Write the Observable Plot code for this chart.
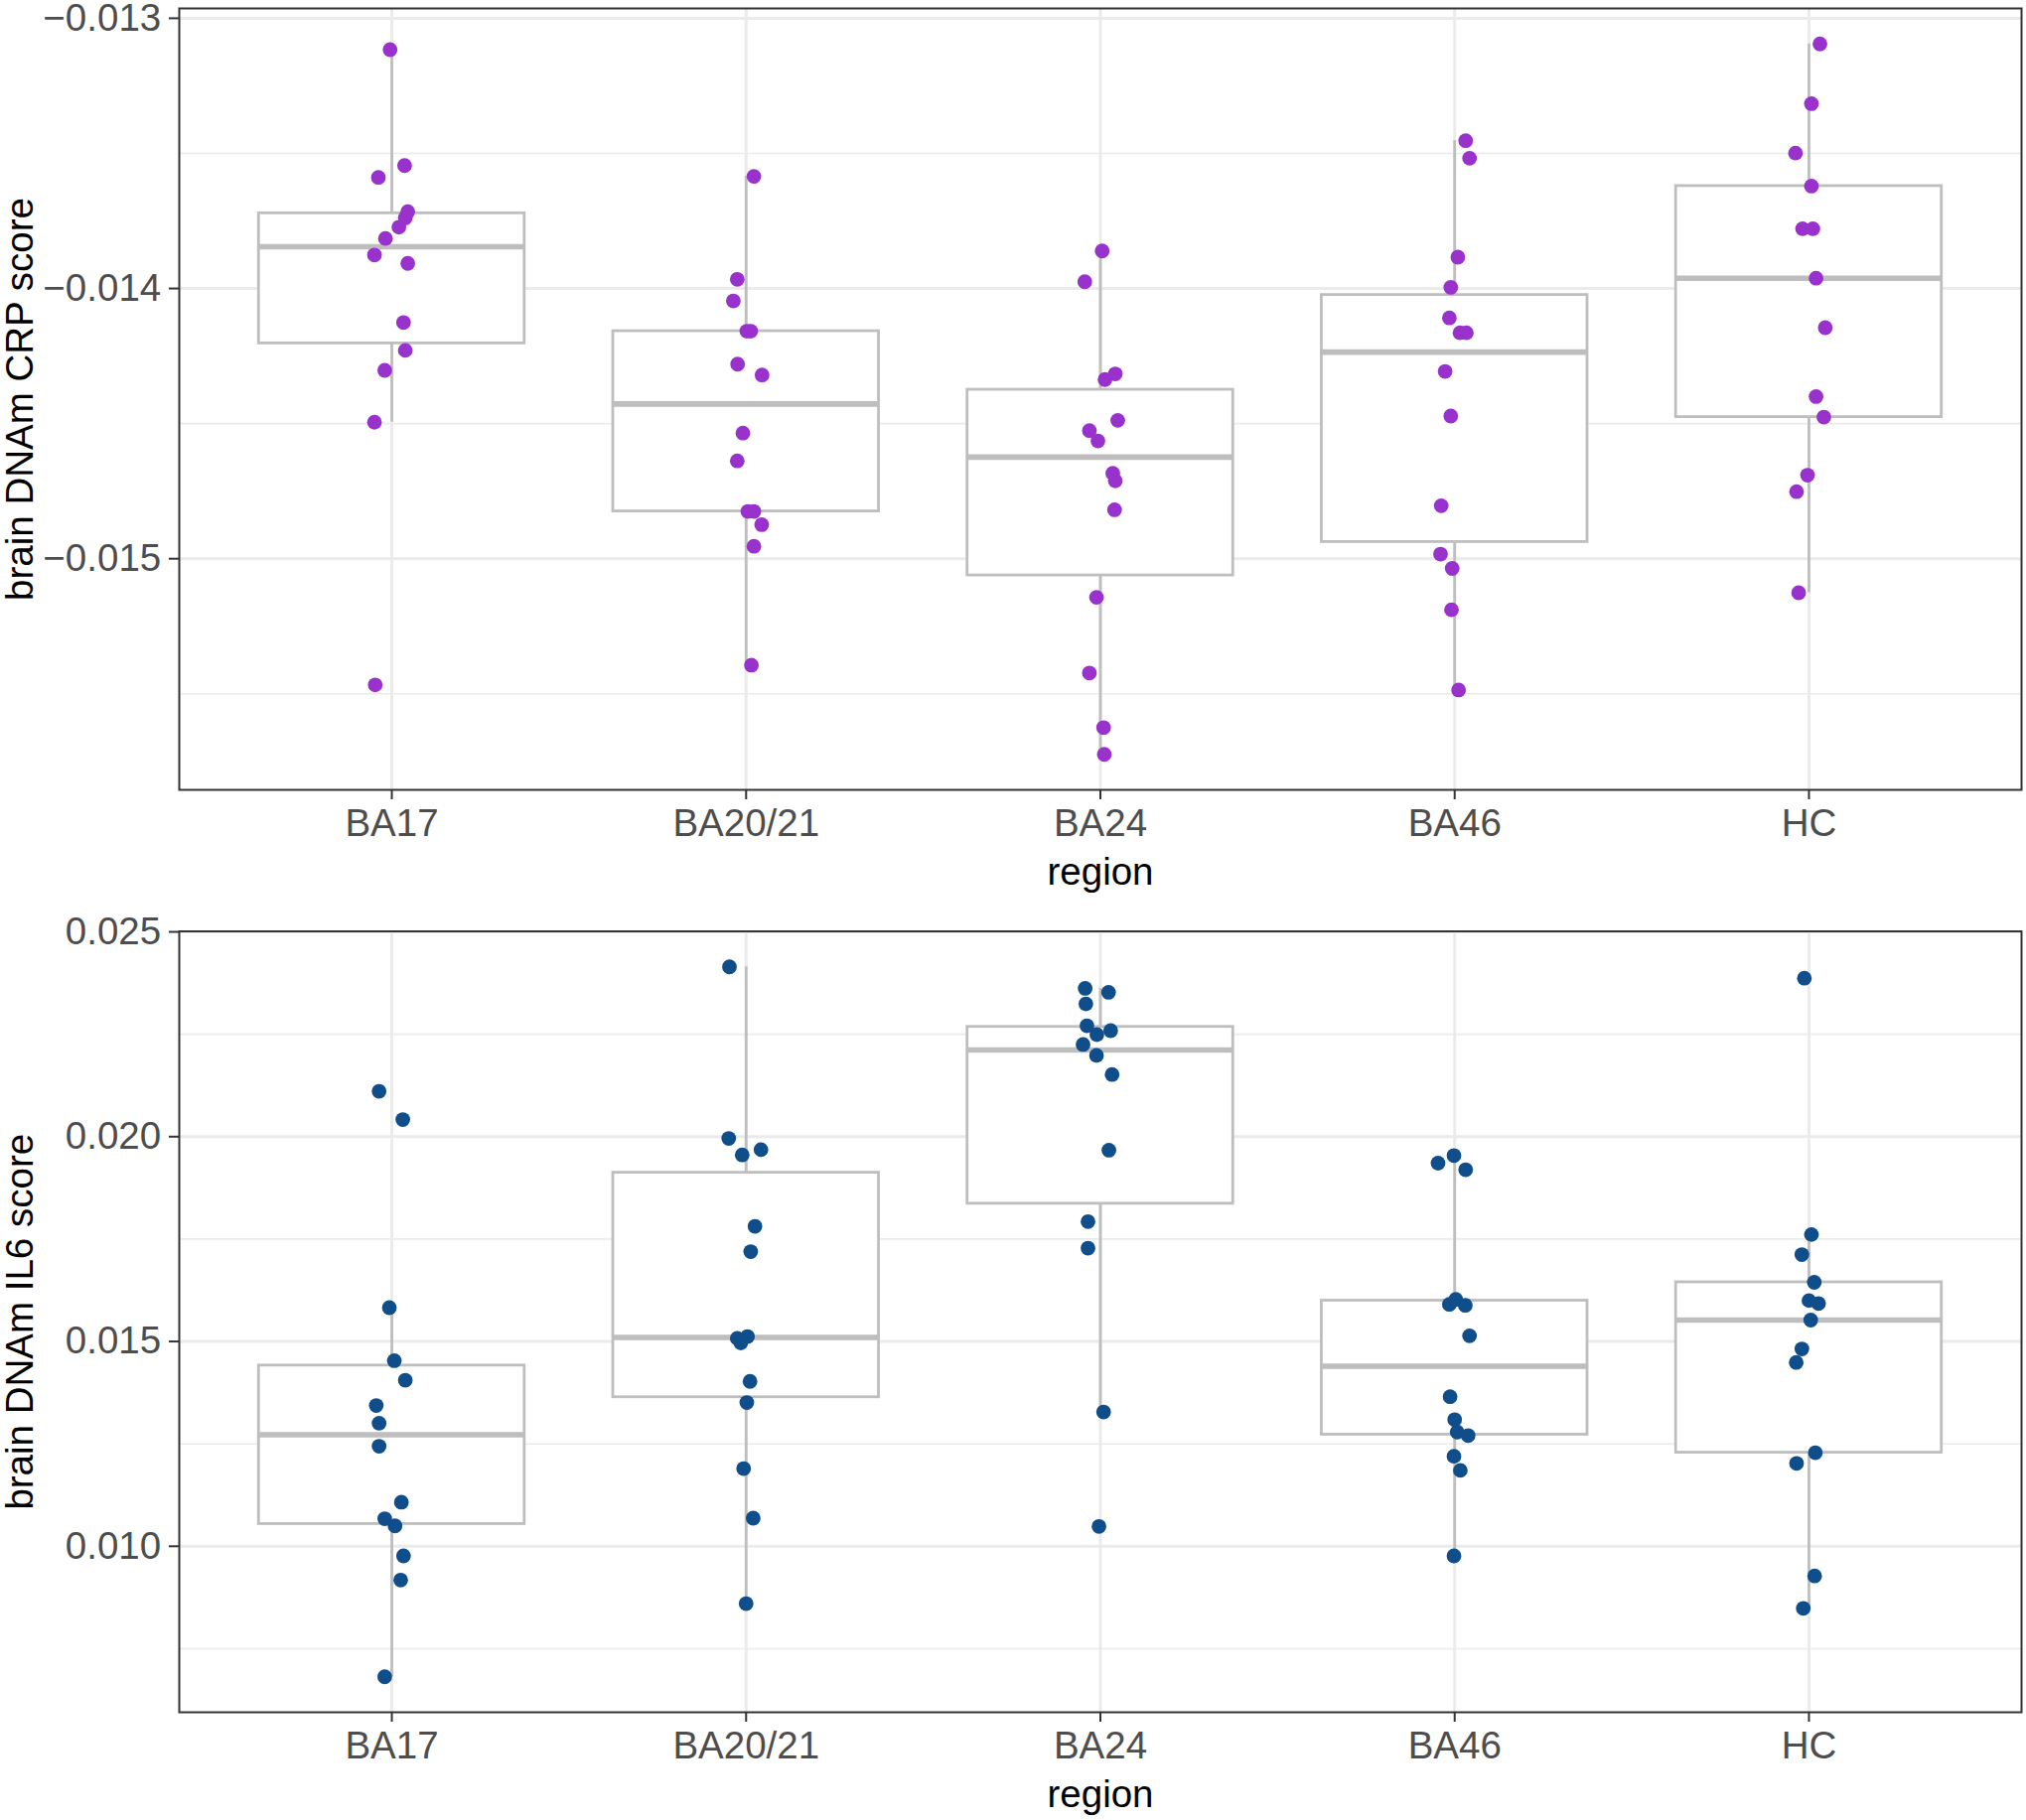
<!DOCTYPE html>
<html>
<head>
<meta charset="utf-8">
<script src="https://cdn.jsdelivr.net/npm/d3@7"></script>
<script src="https://cdn.jsdelivr.net/npm/@observablehq/plot@0.6"></script>
<style>
  html, body { margin: 0; padding: 0; background: #ffffff; }
  #chart svg { display: block; }
</style>
</head>
<body>
<div id="chart"></div>
<script>
// ---- categories ----
const regions = ["BA17", "BA20/21", "BA24", "BA46", "HC"];

// ---- brain DNAm CRP score, per region ----
const crpBA17   = [-0.013116, -0.013545, -0.013589, -0.013716, -0.013739, -0.013773, -0.013815, -0.013876, -0.013907, -0.014126, -0.014229, -0.014303, -0.014495, -0.015467];
const crpBA2021 = [-0.013585, -0.013966, -0.014046, -0.014158, -0.014158, -0.014280, -0.014320, -0.014535, -0.014638, -0.014825, -0.014825, -0.014874, -0.014954, -0.015394];
const crpBA24   = [-0.013861, -0.013975, -0.014316, -0.014337, -0.014488, -0.014526, -0.014564, -0.014684, -0.014712, -0.014819, -0.015143, -0.015423, -0.015625, -0.015724];
const crpBA46   = [-0.013453, -0.013518, -0.013884, -0.013996, -0.014109, -0.014164, -0.014164, -0.014307, -0.014472, -0.014804, -0.014983, -0.015036, -0.015189, -0.015486];
const crpHC     = [-0.013095, -0.013316, -0.013499, -0.013621, -0.013779, -0.013779, -0.013962, -0.014145, -0.014400, -0.014476, -0.014691, -0.014752, -0.015126];

// horizontal jitter of each CRP point (fraction of category spacing)
const jitCrpBA17   = [-0.005, 0.036, -0.038, 0.045, 0.038, 0.020, -0.018, -0.049, 0.045, 0.033, 0.038, -0.020, -0.049, -0.047];
const jitCrpBA2021 = [0.022, -0.025, -0.036, 0.002, 0.013, -0.024, 0.045, -0.009, -0.025, 0.005, 0.022, 0.044, 0.022, 0.015];
const jitCrpBA24   = [0.005, -0.044, 0.042, 0.013, 0.049, -0.031, -0.007, 0.035, 0.042, 0.040, -0.011, -0.031, 0.009, 0.011];
const jitCrpBA46   = [0.031, 0.042, 0.009, -0.011, -0.015, 0.015, 0.033, -0.027, -0.011, -0.038, -0.040, -0.007, -0.009, 0.011];
const jitCrpHC     = [0.031, 0.007, -0.038, 0.007, -0.018, 0.011, 0.020, 0.046, 0.020, 0.042, -0.004, -0.035, -0.029];

// ---- brain DNAm IL6 score, per region ----
const il6BA17   = [0.021108, 0.020417, 0.015826, 0.014530, 0.014055, 0.013436, 0.013004, 0.012443, 0.011075, 0.010672, 0.010499, 0.009765, 0.009175, 0.006814];
const il6BA2021 = [0.024146, 0.019957, 0.019683, 0.019554, 0.017812, 0.017193, 0.015120, 0.015077, 0.014962, 0.014026, 0.013508, 0.011896, 0.010687, 0.008600];
const il6BA24   = [0.023621, 0.023524, 0.023241, 0.022709, 0.022588, 0.022492, 0.022250, 0.021984, 0.021517, 0.019669, 0.017927, 0.017279, 0.013278, 0.010485];
const il6BA46   = [0.019539, 0.019352, 0.019194, 0.016026, 0.015905, 0.015881, 0.015138, 0.013652, 0.013091, 0.012789, 0.012702, 0.012198, 0.011853, 0.009765];
const il6HC     = [0.023869, 0.017610, 0.017121, 0.016444, 0.015998, 0.015926, 0.015523, 0.014818, 0.014487, 0.012285, 0.012025, 0.009276, 0.008484];

const jitIl6BA17   = [-0.036, 0.031, -0.007, 0.007, 0.038, -0.044, -0.036, -0.036, 0.027, -0.020, 0.009, 0.033, 0.025, -0.020];
const jitIl6BA2021 = [-0.047, -0.049, 0.042, -0.011, 0.025, 0.013, 0.004, -0.025, -0.015, 0.011, 0.002, -0.007, 0.020, 0.000];
const jitIl6BA24   = [-0.043, 0.023, -0.041, -0.038, 0.029, -0.010, -0.049, -0.011, 0.033, 0.024, -0.035, -0.035, 0.009, -0.004];
const jitIl6BA46   = [-0.002, -0.047, 0.031, 0.003, -0.015, 0.030, 0.042, -0.013, 0.000, 0.007, 0.038, -0.002, 0.016, -0.002];
const jitIl6HC     = [-0.013, 0.007, -0.020, 0.015, 0.000, 0.027, 0.005, -0.020, -0.036, 0.018, -0.035, 0.016, -0.016];

// ---- axis ticks ----
const crpTicks = [-0.015, -0.014, -0.013];
const crpMinor = [-0.0155, -0.0145, -0.0135];
const il6Ticks = [0.010, 0.015, 0.020, 0.025];
const il6Minor = [0.0075, 0.0125, 0.0175, 0.0225];

const crpValues = [crpBA17, crpBA2021, crpBA24, crpBA46, crpHC];
const crpJitter = [jitCrpBA17, jitCrpBA2021, jitCrpBA24, jitCrpBA46, jitCrpHC];
const il6Values = [il6BA17, il6BA2021, il6BA24, il6BA46, il6HC];
const il6Jitter = [jitIl6BA17, jitIl6BA2021, jitIl6BA24, jitIl6BA46, jitIl6HC];

const FONT = "'Liberation Sans', Arial, Helvetica, sans-serif";
const FS = 38.5;
const BOXW = 0.375;
const BOXCOL = "#BEBEBE";

function panel({values, jitter, color, yLabel, ticks, minor, height, marginTop, marginBottom}) {
  const rows = [];
  values.forEach((vals, i) => vals.forEach((v, j) => rows.push({i, v, x: i + jitter[i][j]})));
  const stats = values.map((vals, i) => {
    const s = vals.slice().sort(d3.ascending);
    const q1 = d3.quantile(s, 0.25), med = d3.quantile(s, 0.5), q3 = d3.quantile(s, 0.75);
    const iqr = q3 - q1;
    const lo = d3.min(s.filter(v => v >= q1 - 1.5 * iqr));
    const hi = d3.max(s.filter(v => v <= q3 + 1.5 * iqr));
    return {i, q1, med, q3, lo, hi};
  });
  const [mn, mx] = d3.extent(rows, d => d.v);
  const pad = (mx - mn) * 0.05;
  return Plot.plot({
    width: 2040,
    height,
    marginLeft: 180,
    marginRight: 5,
    marginTop,
    marginBottom,
    style: {fontFamily: FONT, fontSize: FS + "px", background: "#ffffff", color: "#000000", overflow: "visible"},
    x: {type: "linear", domain: [-0.6, regions.length - 0.4]},
    y: {type: "linear", domain: [mn - pad, mx + pad]},
    marks: [
      Plot.gridY({ticks: minor, stroke: "#EBEBEB", strokeOpacity: 1, strokeWidth: 1.6}),
      Plot.gridY({ticks, stroke: "#EBEBEB", strokeOpacity: 1, strokeWidth: 3}),
      Plot.gridX({ticks: d3.range(regions.length), stroke: "#EBEBEB", strokeOpacity: 1, strokeWidth: 3}),
      Plot.ruleX(stats, {x: "i", y1: "q3", y2: "hi", stroke: BOXCOL, strokeWidth: 2.8}),
      Plot.ruleX(stats, {x: "i", y1: "q1", y2: "lo", stroke: BOXCOL, strokeWidth: 2.8}),
      Plot.rect(stats, {x1: d => d.i - BOXW, x2: d => d.i + BOXW, y1: "q1", y2: "q3", fill: "#ffffff", stroke: BOXCOL, strokeWidth: 2.8}),
      Plot.ruleY(stats, {y: "med", x1: d => d.i - BOXW, x2: d => d.i + BOXW, stroke: BOXCOL, strokeWidth: 5.6}),
      Plot.dot(rows, {x: "x", y: "v", r: 7.4, fill: color}),
      Plot.frame({stroke: "#333333", strokeWidth: 2}),
      Plot.axisX({ticks: d3.range(regions.length), tickFormat: i => regions[i], tickSize: 10, tickPadding: 8.7,
                  fontSize: FS, fill: "#4D4D4D", stroke: "#333333", strokeWidth: 2, label: null}),
      Plot.axisY({ticks, tickFormat: d3.format(".3f"), tickSize: 10, tickPadding: 8.3,
                  fontSize: FS, fill: "#4D4D4D", stroke: "#333333", strokeWidth: 2, label: null}),
      Plot.text(["region"], {text: d => d, frameAnchor: "bottom", lineAnchor: "middle", textAnchor: "middle",
                             dy: 82.7, fontSize: FS, fill: "#000000"}),
      Plot.text([yLabel], {text: d => d, frameAnchor: "left", lineAnchor: "middle", textAnchor: "middle",
                           dx: -160, rotate: -90, fontSize: FS, fill: "#000000"})
    ]
  });
}

const chart = document.getElementById("chart");
chart.append(panel({
  values: crpValues, jitter: crpJitter, color: "#9932CC",
  yLabel: "brain DNAm CRP score", ticks: crpTicks, minor: crpMinor,
  height: 900, marginTop: 8, marginBottom: 105
}));
chart.append(panel({
  values: il6Values, jitter: il6Jitter, color: "#104E8B",
  yLabel: "brain DNAm IL6 score", ticks: il6Ticks, minor: il6Minor,
  height: 933, marginTop: 37.5, marginBottom: 109
}));
</script>
</body>
</html>
